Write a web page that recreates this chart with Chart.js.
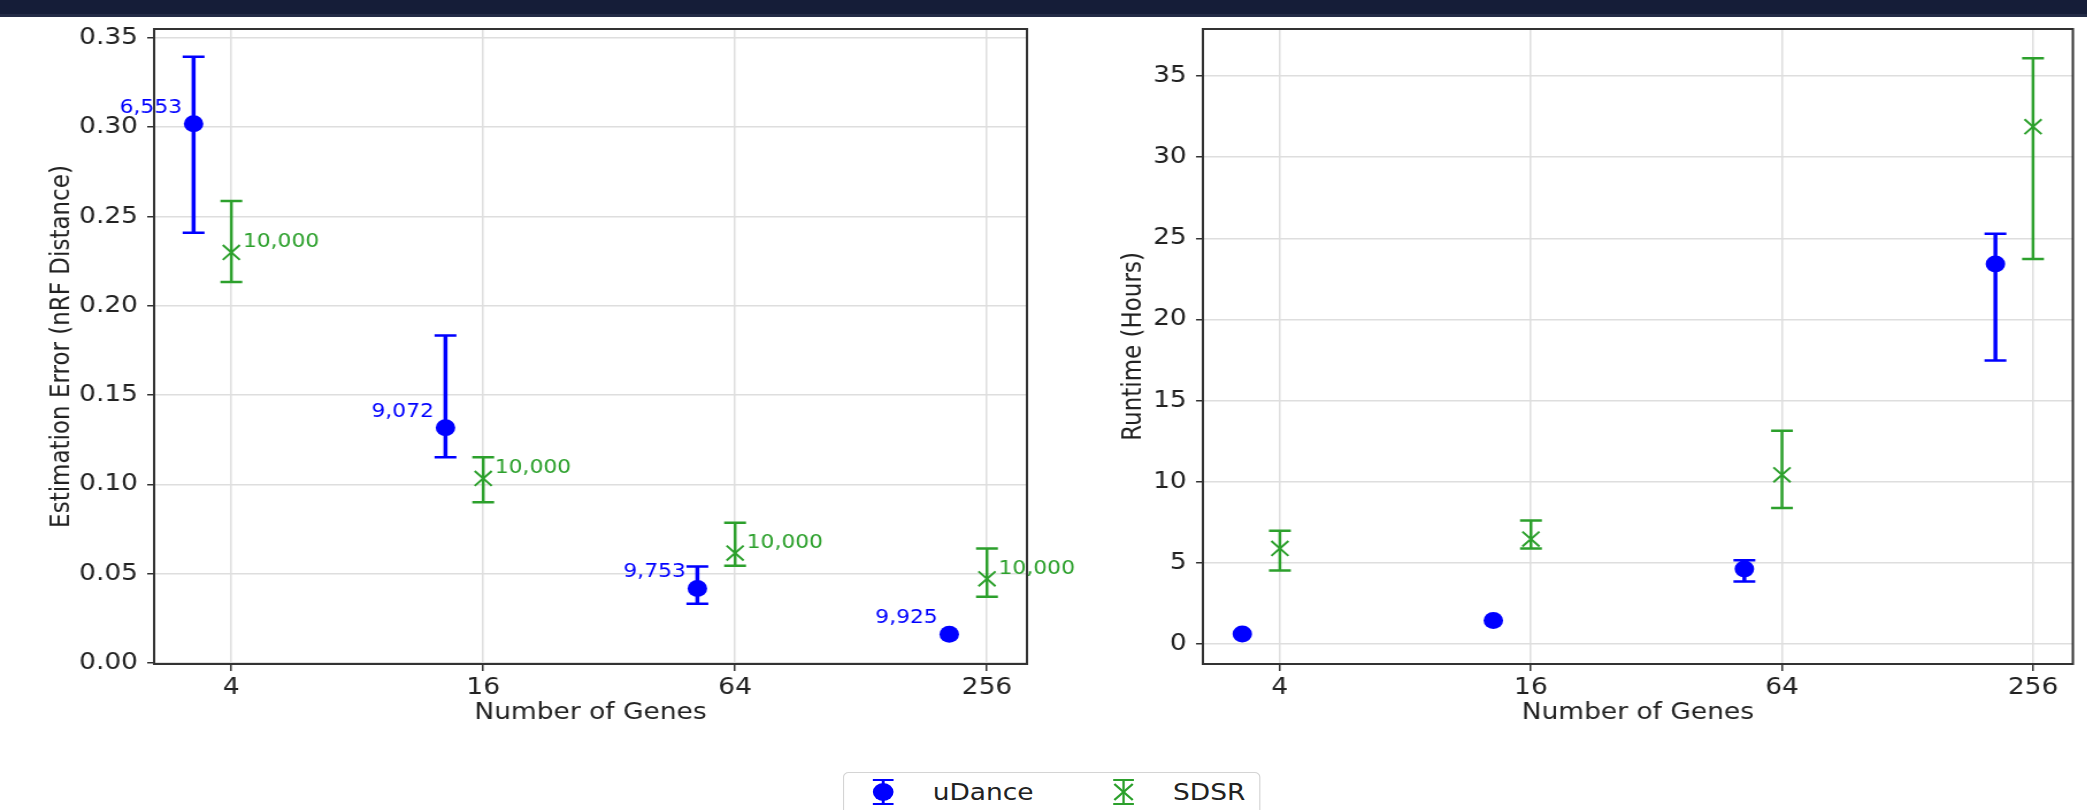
<!DOCTYPE html>
<html>
<head>
<meta charset="utf-8">
<script src="https://cdn.jsdelivr.net/npm/chart.js@4.4.1/dist/chart.umd.min.js"></script>
<style>
  html, body { margin: 0; padding: 0; background: #fff; overflow: hidden; }
  /* the reference figure is stretched sideways, so the whole stage is too */
  #stage { position: absolute; left: 0; top: 0; width: 1815px; height: 810px;
           transform: scaleX(1.15); transform-origin: 0 0; font-family: "DejaVu Sans"; color: #222; }
  .topbar { position: absolute; left: 0; top: 0; width: 100%; height: 14px; background: #151d38; }
  .topband { position: absolute; left: 0; top: 14px; width: 100%; height: 3px; background: #232b46; }
  #boxErr { position: absolute; left: 0; top: 7px; width: 960px; height: 733px; }
  #boxTime { position: absolute; left: 913px; top: 7px; width: 902px; height: 733px; }
  #legend { position: absolute; left: 733px; top: 772px; width: 361px; height: 60px;
            border: 1.5px solid #d4d4d4; border-radius: 5px; background: #fff; }
  #legend svg { position: absolute; top: 4px; }
  #legend span { position: absolute; top: 5px; font-size: 23px; line-height: 28px; }
</style>
</head>
<body>
<div id="stage">
  <div class="topbar"></div>
  <div class="topband"></div>
  <div id="boxErr"><canvas id="errCanvas"></canvas></div>
  <div id="boxTime"><canvas id="timeCanvas"></canvas></div>
  <div id="legend">
    <svg width="24" height="30" style="left:22px">
      <line x1="12" y1="3" x2="12" y2="27" stroke="#0000ff" stroke-width="2.5"/>
      <line x1="3" y1="3" x2="21" y2="3" stroke="#0000ff" stroke-width="2"/>
      <line x1="3" y1="27" x2="21" y2="27" stroke="#0000ff" stroke-width="2"/>
      <circle cx="12" cy="15" r="9" fill="#0000ff"/>
    </svg>
    <span style="left:77px">uDance</span>
    <svg width="24" height="30" style="left:231px">
      <line x1="12" y1="3" x2="12" y2="27" stroke="#2ca02c" stroke-width="2"/>
      <line x1="3" y1="3" x2="21" y2="3" stroke="#2ca02c" stroke-width="2"/>
      <line x1="3" y1="27" x2="21" y2="27" stroke="#2ca02c" stroke-width="2"/>
      <line x1="4" y1="7" x2="20" y2="23" stroke="#2ca02c" stroke-width="2"/>
      <line x1="20" y1="7" x2="4" y2="23" stroke="#2ca02c" stroke-width="2"/>
    </svg>
    <span style="left:286px">SDSR</span>
  </div>
</div>
<script>
// Number of genes (x), uDance is drawn shifted to the left of each tick
const geneCounts = [4, 16, 64, 256];
const uDanceX = [3.25, 13, 52, 208];
const sdsrX = [4, 16, 64, 256];

// Estimation error (nRF distance)
const errUDance = [0.302, 0.1317, 0.0418, 0.0162];
const errUDanceLow = [0.241, 0.1153, 0.0332, null];
const errUDanceHigh = [0.3395, 0.1834, 0.0541, null];
const errSdsr = [0.2299, 0.1034, 0.0616, 0.0472];
const errSdsrLow = [0.2133, 0.0901, 0.0545, 0.0371];
const errSdsrHigh = [0.2587, 0.1153, 0.0786, 0.0642];

// Runtime (hours)
const timeUDance = [0.62, 1.45, 4.62, 23.42];
const timeUDanceLow = [null, null, 3.86, 17.47];
const timeUDanceHigh = [null, null, 5.17, 25.29];
const timeSdsr = [5.89, 6.47, 10.43, 31.88];
const timeSdsrLow = [4.53, 5.89, 8.39, 23.73];
const timeSdsrHigh = [6.98, 7.61, 13.14, 36.1];

// number of trees written next to the points
const uDanceTrees = ["6,553", "9,072", "9,753", "9,925"];
const sdsrTrees = ["10,000", "10,000", "10,000", "10,000"];

const errTicks = [0, 0.05, 0.1, 0.15, 0.2, 0.25, 0.3, 0.35];
const timeTicks = [0, 5, 10, 15, 20, 25, 30, 35];

const BLUE = "#0000ff";
const GREEN = "#2ca02c";
const TEXT = "#222";
const GRID = "#dedede";
const font = { family: "DejaVu Sans", size: 23 };

const toPoints = (xs, ys) => xs.map((x, i) => ({ x: x, y: ys[i] }));

// frame + error bars, drawn under the markers
const errorBarsPlugin = {
  id: "errorBars",
  beforeDatasetsDraw(chart) {
    const { ctx, chartArea, scales } = chart;
    const x = scales.x;
    const y = scales.y;

    ctx.save();
    ctx.strokeStyle = "#333";
    ctx.lineWidth = 2;
    ctx.strokeRect(chartArea.left, chartArea.top, chartArea.right - chartArea.left, chartArea.bottom - chartArea.top);

    chart.data.datasets.forEach((ds) => {
      ctx.strokeStyle = ds.borderColor;
      ds.data.forEach((pt, i) => {
        if (ds.low[i] == null) return;
        const px = x.getPixelForValue(pt.x);
        const top = y.getPixelForValue(ds.high[i]);
        const bottom = y.getPixelForValue(ds.low[i]);
        ctx.lineWidth = ds.stemWidth;
        ctx.beginPath();
        ctx.moveTo(px, top);
        ctx.lineTo(px, bottom);
        ctx.stroke();
        ctx.lineWidth = 2.5;
        ctx.beginPath();
        ctx.moveTo(px - 9.5, top);
        ctx.lineTo(px + 9.5, top);
        ctx.moveTo(px - 9.5, bottom);
        ctx.lineTo(px + 9.5, bottom);
        ctx.stroke();
      });
    });
    ctx.restore();
  },
  afterDatasetsDraw(chart) {
    const { ctx, scales } = chart;
    ctx.save();
    ctx.font = "19px 'DejaVu Sans'";
    ctx.textBaseline = "middle";
    chart.data.datasets.forEach((ds) => {
      if (!ds.tags) return;
      ctx.fillStyle = ds.borderColor;
      ds.data.forEach((pt, i) => {
        const px = scales.x.getPixelForValue(pt.x);
        const py = scales.y.getPixelForValue(pt.y);
        if (ds.tagSide === "left") {
          ctx.textAlign = "right";
          ctx.fillText(ds.tags[i], px - 10, py - 16);
        } else {
          ctx.textAlign = "left";
          ctx.fillText(ds.tags[i], px + 10, py - 10);
        }
      });
    });
    ctx.restore();
  },
};

const makeChart = (canvas, cfg) => {
  return new Chart(canvas, {
    type: "scatter",
    data: {
      datasets: [
        {
          label: "uDance",
          data: toPoints(uDanceX, cfg.uDance),
          low: cfg.uDanceLow,
          high: cfg.uDanceHigh,
          tags: cfg.uDanceTags,
          tagSide: "left",
          stemWidth: 3.5,
          pointStyle: "circle",
          pointRadius: 8.5,
          backgroundColor: BLUE,
          borderColor: BLUE,
          borderWidth: 0,
        },
        {
          label: "SDSR",
          data: toPoints(sdsrX, cfg.sdsr),
          low: cfg.sdsrLow,
          high: cfg.sdsrHigh,
          tags: cfg.sdsrTags,
          tagSide: "right",
          stemWidth: 2.5,
          pointStyle: "crossRot",
          pointRadius: 10.5,
          backgroundColor: GREEN,
          borderColor: GREEN,
          borderWidth: 2,
        },
      ],
    },
    options: {
      responsive: true,
      maintainAspectRatio: false,
      animation: false,
      layout: { padding: { top: 22, right: cfg.padRight, left: 0, bottom: 0 } },
      plugins: { legend: { display: false }, tooltip: { enabled: false } },
      scales: {
        x: {
          type: "logarithmic",
          min: 2.615,
          max: 319,
          afterBuildTicks: (scale) => {
            scale.ticks = geneCounts.map((v) => ({ value: v }));
          },
          afterFit: (scale) => {
            scale.height = 76;
          },
          ticks: { callback: (v) => String(v), font: font, color: TEXT, padding: 3, maxRotation: 0, autoSkip: false },
          grid: { color: GRID, lineWidth: 1.5, tickLength: 7, tickColor: "#333", tickWidth: 1.5 },
          border: { display: false },
          title: { display: true, text: "Number of Genes", font: font, color: TEXT, padding: { top: 0, bottom: 13 } },
        },
        y: {
          min: cfg.yMin,
          max: cfg.yMax,
          afterBuildTicks: (scale) => {
            scale.ticks = cfg.yTicks.map((v) => ({ value: v }));
          },
          afterFit: (scale) => {
            scale.width = cfg.axisWidth;
          },
          ticks: { callback: cfg.fmt, font: font, color: TEXT, padding: 8 },
          grid: { color: GRID, lineWidth: 1.5, tickLength: 6, tickColor: "#333", tickWidth: 1.5 },
          border: { display: false },
          title: { display: true, text: cfg.yTitle, font: font, color: TEXT, padding: { top: cfg.titlePad, bottom: 0 } },
        },
      },
    },
    plugins: [errorBarsPlugin],
  });
};

const errChart = makeChart(document.getElementById("errCanvas"), {
  uDance: errUDance,
  uDanceLow: errUDanceLow,
  uDanceHigh: errUDanceHigh,
  sdsr: errSdsr,
  sdsrLow: errSdsrLow,
  sdsrHigh: errSdsrHigh,
  uDanceTags: uDanceTrees,
  sdsrTags: sdsrTrees,
  yMin: -0.0005,
  yMax: 0.355,
  yTicks: errTicks,
  fmt: (v) => v.toFixed(2),
  yTitle: "Estimation Error (nRF Distance)",
  axisWidth: 134,
  titlePad: 40,
  padRight: 67,
});

const timeChart = makeChart(document.getElementById("timeCanvas"), {
  uDance: timeUDance,
  uDanceLow: timeUDanceLow,
  uDanceHigh: timeUDanceHigh,
  sdsr: timeSdsr,
  sdsrLow: timeSdsrLow,
  sdsrHigh: timeSdsrHigh,
  uDanceTags: null,
  sdsrTags: null,
  yMin: -1.23,
  yMax: 37.9,
  yTicks: timeTicks,
  fmt: (v) => String(v),
  yTitle: "Runtime (Hours)",
  axisWidth: 133,
  titlePad: 59,
  padRight: 11,
});
</script>
</body>
</html>
